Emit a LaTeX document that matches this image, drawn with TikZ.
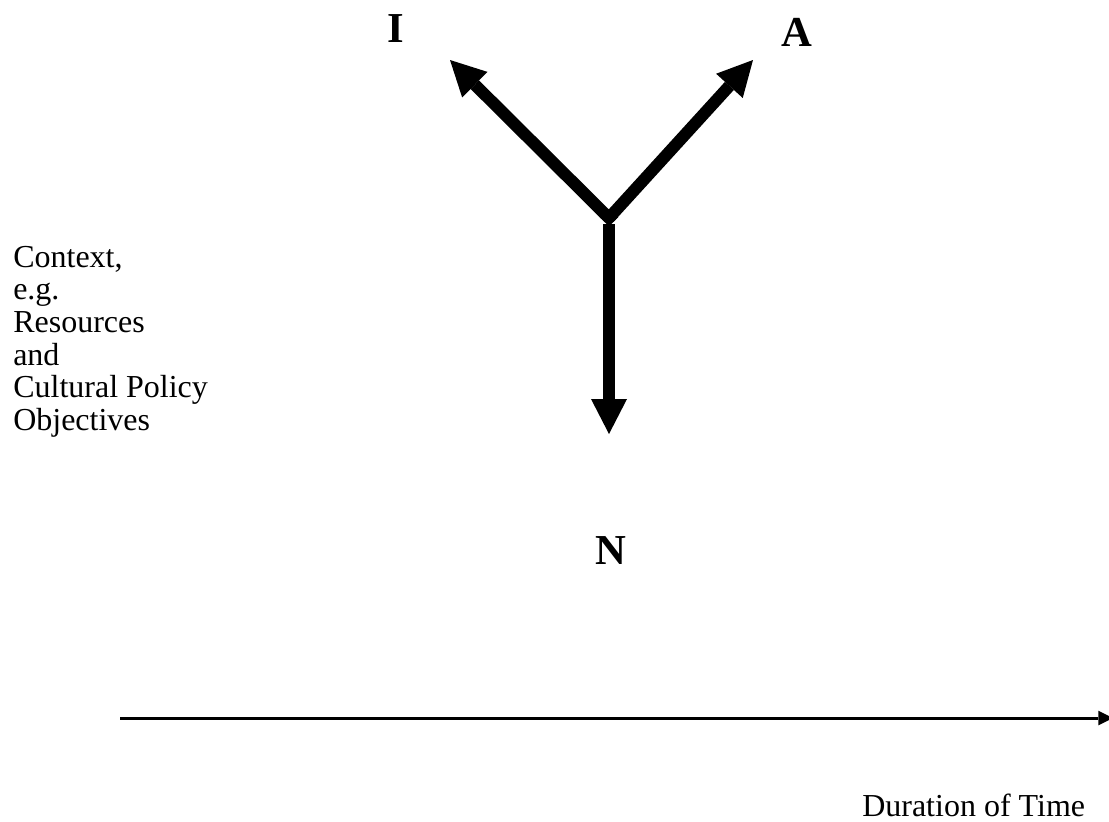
\documentclass[tikz,border=0pt]{standalone}
\usepackage{fontspec}
\setmainfont{Liberation Serif}
\usetikzlibrary{arrows.meta,calc}
\begin{document}
\begin{tikzpicture}[x=0.75pt,y=-0.75pt,
  bigarrow/.style={line width=9pt, line join=miter,
    -{Triangle[length=26.25pt,width=27pt,line width=0pt]}},
  timearrow/.style={line width=2.25pt,
    -{Triangle[length=11pt,width=11pt,line width=0pt]}},
  letter/.style={font=\fontsize{32}{36}\selectfont\bfseries, inner sep=0pt, anchor=base},
  plain/.style={font=\fontsize{24}{24.4}\selectfont, inner sep=0pt, align=left}]
\useasboundingbox (0,0) rectangle (1109,821);
\clip (0,0) rectangle (1109,821);

% centre of the fork and the tips of its three arms
\coordinate (J) at (609,218);
\coordinate (Jdown) at (609,224);
\coordinate (Itip) at (450,60);
\coordinate (Atip) at (753,60);
\coordinate (Ntip) at (609,434);

\draw[bigarrow] (J) -- (Itip);
\draw[bigarrow] (J) -- (Atip);
\draw[line width=9pt] ($(J)+(-5,-5)$) -- (J) -- ($(J)+(5,-5)$);
\draw[bigarrow] (Jdown) -- (Ntip);

% labels of the arms
\node[letter] (I) at (396,42) {I};
\node[letter] (A) at (797,46) {A};
\node[letter] (N) at (611,564) {N};

% context note
\node[plain, anchor=north west] (ctx) at (13,246)
  {Context,\\e.g.\\Resources\\and\\Cultural Policy\\Objectives};

% time axis
\coordinate (t0) at (120,718);
\coordinate (t1) at (1113,718);
\draw[timearrow] (t0) -- (t1);
\node[plain, anchor=base west] (dur) at (862,816) {Duration of Time};
\end{tikzpicture}
\end{document}
